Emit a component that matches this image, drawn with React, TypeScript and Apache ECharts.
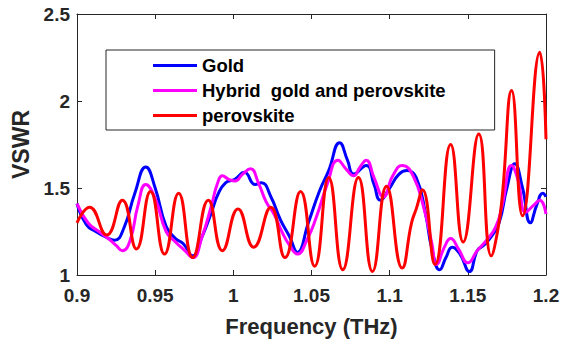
import React, { useEffect, useRef } from "react";
import * as echarts from "echarts";

const xTicks = [0.9, 0.95, 1, 1.05, 1.1, 1.15, 1.2];
const yTicks = [1, 1.5, 2, 2.5];
const seriesNames = ["Gold", "Hybrid  gold and perovskite", "perovskite"];

const goldFreq = [0.900, 0.906, 0.912, 0.918, 0.924, 0.930, 0.937, 0.944, 0.950, 0.957, 0.963, 0.968, 0.974, 0.980, 0.986, 0.990, 0.995, 1.001, 1.007, 1.014, 1.018, 1.024, 1.030, 1.036, 1.041, 1.048, 1.055, 1.061, 1.068, 1.073, 1.077, 1.085, 1.090, 1.094, 1.100, 1.106, 1.111, 1.117, 1.123, 1.127, 1.132, 1.136, 1.140, 1.145, 1.151, 1.156, 1.160, 1.165, 1.170, 1.175, 1.180, 1.185, 1.190, 1.194, 1.198, 1.200];
const goldVswr = [1.41, 1.29, 1.25, 1.22, 1.20, 1.27, 1.47, 1.62, 1.50, 1.28, 1.21, 1.18, 1.11, 1.22, 1.36, 1.46, 1.53, 1.55, 1.59, 1.52, 1.53, 1.45, 1.32, 1.22, 1.13, 1.30, 1.48, 1.60, 1.76, 1.66, 1.58, 1.63, 1.52, 1.43, 1.50, 1.58, 1.60, 1.56, 1.35, 1.15, 1.03, 1.10, 1.16, 1.12, 1.02, 1.14, 1.17, 1.22, 1.30, 1.50, 1.64, 1.50, 1.30, 1.40, 1.47, 1.45];

const hybridFreq = [0.900, 0.907, 0.914, 0.920, 0.925, 0.929, 0.934, 0.939, 0.944, 0.950, 0.957, 0.963, 0.969, 0.974, 0.980, 0.986, 0.990, 0.993, 0.997, 1.001, 1.006, 1.011, 1.016, 1.021, 1.026, 1.031, 1.036, 1.041, 1.047, 1.053, 1.060, 1.067, 1.072, 1.077, 1.081, 1.085, 1.090, 1.096, 1.102, 1.108, 1.115, 1.122, 1.127, 1.130, 1.135, 1.139, 1.144, 1.150, 1.156, 1.162, 1.168, 1.172, 1.178, 1.182, 1.187, 1.192, 1.196, 1.200];
const hybridVswr = [1.41, 1.30, 1.25, 1.21, 1.17, 1.14, 1.20, 1.40, 1.52, 1.44, 1.25, 1.19, 1.14, 1.10, 1.22, 1.40, 1.53, 1.57, 1.55, 1.54, 1.58, 1.61, 1.53, 1.42, 1.35, 1.25, 1.17, 1.12, 1.20, 1.33, 1.52, 1.66, 1.61, 1.57, 1.62, 1.66, 1.56, 1.45, 1.57, 1.63, 1.57, 1.38, 1.18, 1.06, 1.16, 1.21, 1.15, 1.07, 1.14, 1.20, 1.28, 1.40, 1.63, 1.55, 1.36, 1.40, 1.43, 1.35];

const perovFreq = [0.900, 0.908, 0.919, 0.929, 0.938, 0.947, 0.956, 0.965, 0.974, 0.984, 0.993, 1.003, 1.013, 1.024, 1.033, 1.043, 1.052, 1.061, 1.070, 1.080, 1.089, 1.098, 1.108, 1.114, 1.117, 1.121, 1.129, 1.139, 1.147, 1.157, 1.165, 1.169, 1.172, 1.178, 1.185, 1.196, 1.200];
const perovVswr = [1.30, 1.39, 1.23, 1.43, 1.15, 1.48, 1.12, 1.47, 1.10, 1.43, 1.14, 1.38, 1.16, 1.39, 1.10, 1.48, 1.05, 1.56, 1.03, 1.56, 1.02, 1.51, 1.04, 1.30, 1.38, 1.49, 1.06, 1.75, 1.19, 1.81, 1.11, 1.25, 1.45, 2.06, 1.34, 2.28, 1.78];

const colors = ["#0000ff", "#ff00ff", "#ff0000"];
const FONT = "Liberation Sans, Arial, Helvetica, sans-serif";
const AXIS_COLOR = "#262626";

const zip = (xs: number[], ys: number[]) => xs.map((x, i) => [x, ys[i]]);

export default function App() {
  const ref = useRef<HTMLDivElement>(null);
  useEffect(() => {
    if (!ref.current) return;
    const chart = echarts.init(ref.current, undefined, { renderer: "svg" });
    const fmt = (v: number) => String(parseFloat(v.toFixed(2)));
    const baseAxisLine = { show: true, lineStyle: { color: AXIS_COLOR, width: 1 } };
    const tick = { show: true, inside: true, length: 5, lineStyle: { color: AXIS_COLOR } };
    chart.setOption({
      animation: false,
      backgroundColor: "#ffffff",
      textStyle: { fontFamily: FONT },
      grid: { left: 77, right: 24, top: 14, bottom: 68, containLabel: false },
      legend: {
        orient: "vertical",
        left: 106,
        top: 50,
        padding: [6, 49, 5, 47],
        itemGap: 6,
        itemWidth: 44,
        itemHeight: 3,
        icon: "rect",
        borderColor: AXIS_COLOR,
        borderWidth: 1,
        borderRadius: 0,
        backgroundColor: "#ffffff",
        data: seriesNames,
        textStyle: { fontFamily: FONT, fontWeight: "bold", fontSize: 18.5, color: "#000" },
      },
      xAxis: [
        {
          type: "value",
          min: xTicks[0],
          max: xTicks[xTicks.length - 1],
          interval: 0.05,
          name: "Frequency (THz)",
          nameLocation: "middle",
          nameGap: 40,
          nameTextStyle: { fontFamily: FONT, fontWeight: "bold", fontSize: 22, color: "#262626" },
          axisLine: baseAxisLine,
          axisTick: tick,
          splitLine: { show: false },
          axisLabel: { fontFamily: FONT, fontWeight: "bold", fontSize: 19, color: "#262626", margin: 11, formatter: fmt },
        },
        {
          type: "value",
          position: "top",
          min: xTicks[0],
          max: xTicks[xTicks.length - 1],
          interval: 0.05,
          axisLine: baseAxisLine,
          axisTick: tick,
          splitLine: { show: false },
          axisLabel: { show: false },
        },
      ],
      yAxis: [
        {
          type: "value",
          min: yTicks[0],
          max: yTicks[yTicks.length - 1],
          interval: 0.5,
          name: "VSWR",
          nameLocation: "middle",
          nameGap: 40,
          nameTextStyle: { fontFamily: FONT, fontWeight: "bold", fontSize: 23, color: "#262626" },
          axisLine: baseAxisLine,
          axisTick: tick,
          splitLine: { show: false },
          axisLabel: { fontFamily: FONT, fontWeight: "bold", fontSize: 19, color: "#262626", margin: 7, formatter: fmt },
        },
        {
          type: "value",
          position: "right",
          min: yTicks[0],
          max: yTicks[yTicks.length - 1],
          interval: 0.5,
          axisLine: baseAxisLine,
          axisTick: tick,
          splitLine: { show: false },
          axisLabel: { show: false },
        },
      ],
      series: [
        { name: seriesNames[0], data: zip(goldFreq, goldVswr) },
        { name: seriesNames[1], data: zip(hybridFreq, hybridVswr) },
        { name: seriesNames[2], data: zip(perovFreq, perovVswr) },
      ].map((s, i) => ({
        ...s,
        type: "line",
        smooth: 0.5,
        showSymbol: false,
        symbol: "none",
        color: colors[i],
        itemStyle: { color: colors[i] },
        lineStyle: { color: colors[i], width: 3 },
        clip: true,
      })),
    });
    return () => chart.dispose();
  }, []);
  return <div ref={ref} style={{ width: 570, height: 343, position: "absolute", left: 0, top: 0 }} />;
}
